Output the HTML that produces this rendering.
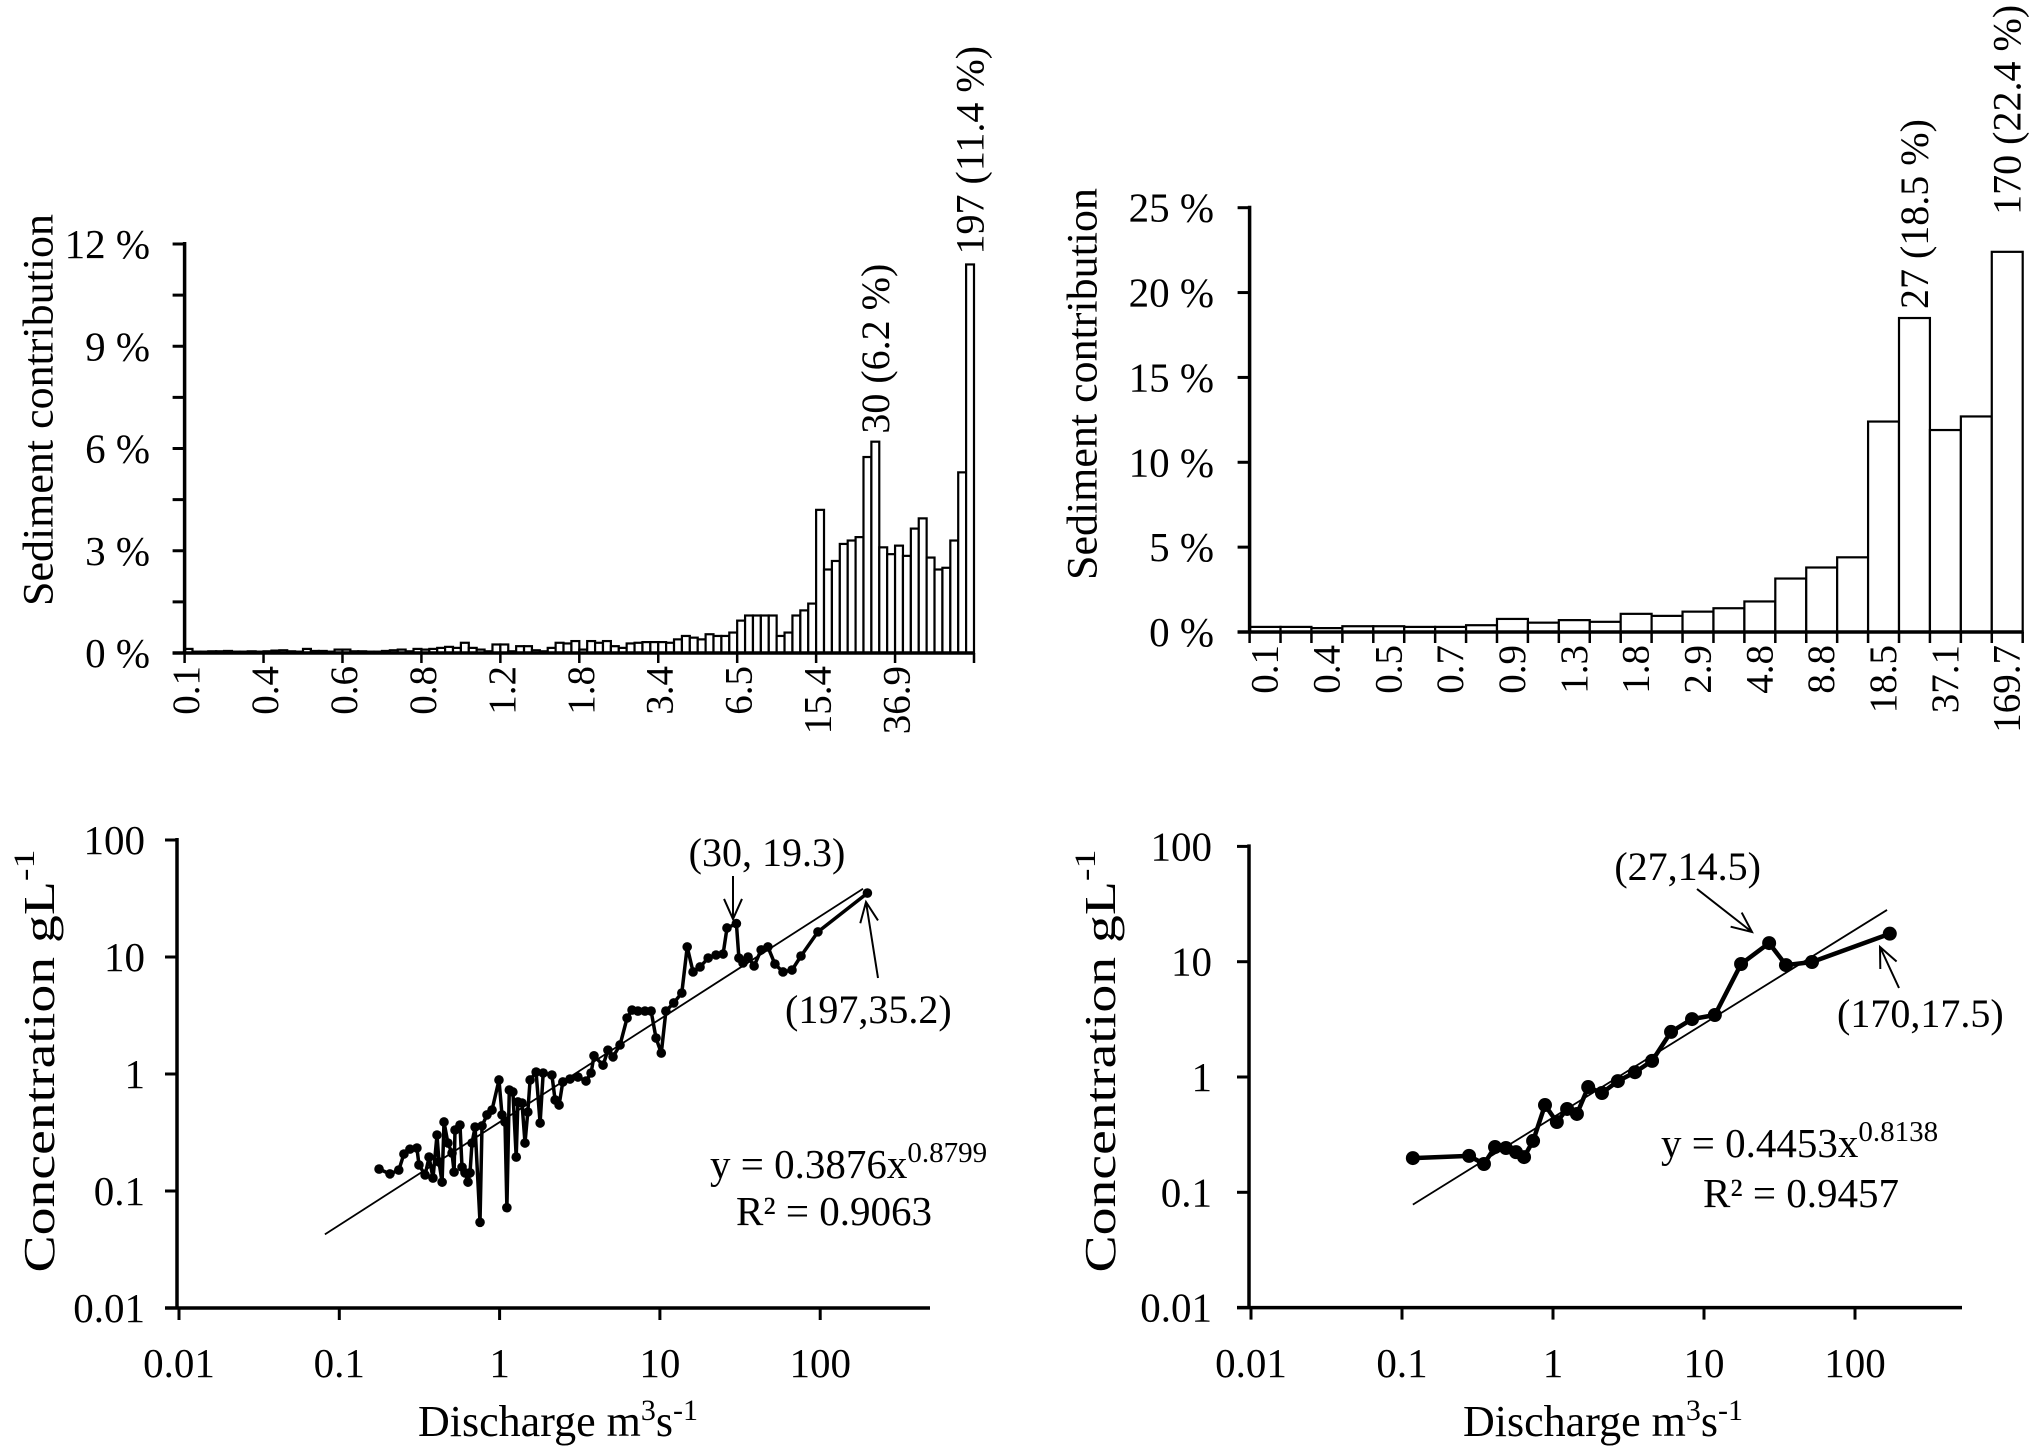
<!DOCTYPE html>
<html><head><meta charset="utf-8"><style>
html,body{margin:0;padding:0;background:#fff}
svg{display:block}
text{font-family:"Liberation Serif","Times New Roman",serif;fill:#000}
</style></head><body>
<svg id="fig" width="2042" height="1455" viewBox="0 0 2042 1455" xmlns="http://www.w3.org/2000/svg">
<rect width="2042" height="1455" fill="#fff"/>
<g id="pa"></g>
<g id="pb"></g>
<g id="pc"></g>
<g id="pd"></g>
</svg>
<script>
const aBarValues=[0.12,0.04,0.04,0.05,0.05,0.06,0.04,0.04,0.05,0.04,
0.05,0.07,0.08,0.05,0.04,0.12,0.06,0.06,0.04,0.1,
0.1,0.05,0.05,0.04,0.04,0.06,0.08,0.1,0.05,0.12,
0.1,0.12,0.15,0.18,0.15,0.3,0.15,0.1,0.05,0.25,
0.25,0.05,0.2,0.2,0.08,0.05,0.15,0.3,0.28,0.35,
0.1,0.35,0.3,0.35,0.2,0.15,0.28,0.3,0.32,0.32,
0.32,0.3,0.4,0.5,0.45,0.4,0.55,0.5,0.5,0.6,
0.95,1.1,1.1,1.1,1.1,0.5,0.6,1.1,1.25,1.45,
4.2,2.45,2.7,3.2,3.3,3.4,5.75,6.2,3.1,2.9,
3.15,2.85,3.65,3.95,2.8,2.45,2.5,3.3,5.3,11.4];
const aTickLabels=['0.1','0.4','0.6','0.8','1.2','1.8','3.4','6.5','15.4','36.9'];
const aYTicks=[0,3,6,9,12];
const aPeakIdx=[87,99];
const aPeakText=['30 (6.2 %)','197 (11.4 %)'];

const bBarValues=[0.3,0.3,0.23,0.34,0.34,0.3,0.3,0.4,0.77,0.55,0.7,0.6,1.07,0.95,1.2,1.4,1.8,3.15,3.8,4.4,12.4,18.5,11.9,12.7,22.4];
const bTickLabels=['0.1','0.4','0.5','0.7','0.9','1.3','1.8','2.9','4.8','8.8','18.5','37.1','169.7'];
const bYTicks=[0,5,10,15,20,25];
const bPeakIdx=[21,24];
const bPeakText=['27 (18.5 %)','170 (22.4 %)'];

const cQ=[0.177,0.207,0.235,0.253,0.276,0.305,0.314,0.343,0.363,0.384,0.407,0.419,0.438,0.45,0.476,0.505,0.52,0.527,0.566,0.583,0.608,0.635,0.654,0.673,0.703,0.755,0.777,0.834,0.897,0.991,1.035,1.08,1.11,1.15,1.21,1.27,1.3,1.38,1.44,1.5,1.55,1.69,1.79,1.87,2.12,2.22,2.35,2.48,2.75,3.08,3.46,3.72,3.88,4.42,4.74,5.1,5.64,6.24,6.7,7.3,8.07,8.81,9.46,10.2,10.9,12.2,13.7,14.8,16.1,17.8,20.0,22.4,24.8,26.2,30,31.1,33.0,35.5,38.7,42.8,47.2,52.2,58.6,66.7,75.9,96.8,197];
const cC=[0.154,0.14,0.151,0.207,0.228,0.233,0.167,0.137,0.195,0.129,0.301,0.177,0.119,0.389,0.257,0.211,0.145,0.332,0.366,0.16,0.143,0.119,0.143,0.257,0.352,0.054,0.36,0.447,0.492,0.889,0.447,0.389,0.072,0.73,0.702,0.195,0.577,0.565,0.257,0.473,0.889,1.04,0.381,1.02,0.98,0.6,0.543,0.855,0.906,0.942,0.871,1.02,1.43,1.19,1.6,1.4,1.77,3.01,3.52,3.45,3.45,3.45,2.03,1.51,3.45,4.05,4.92,12.2,7.45,8.22,9.8,10.4,10.6,17.7,19.3,9.8,8.89,10.0,8.38,11.5,12.2,8.71,7.45,7.74,10.2,16.4,35.2];
const cFit=[0.3876,0.8799];
const cFitRange=[0.0813,185];

const dQ=[0.118,0.278,0.349,0.413,0.488,0.569,0.643,0.738,0.885,1.06,1.24,1.44,1.71,2.11,2.69,3.49,4.53,6.05,8.33,11.8,17.6,27,34.9,51.9,170];
const dC=[0.198,0.207,0.176,0.247,0.242,0.223,0.202,0.279,0.571,0.407,0.528,0.478,0.818,0.726,0.922,1.1,1.38,2.46,3.18,3.45,9.55,14.5,9.35,9.94,17.5];
const dFit=[0.4453,0.8138];
const dFitRange=[0.118,163];

const logTicks=[0.01,0.1,1,10,100];
const logTickLabels=['0.01','0.1','1','10','100'];

const NS='http://www.w3.org/2000/svg';
function el(parent,tag,attrs,txt){const e=document.createElementNS(NS,tag);for(const k in attrs)e.setAttribute(k,attrs[k]);if(txt!==undefined)e.textContent=txt;parent.appendChild(e);return e;}

function histogram(g,cfg){
  const {x0,x1,y0,yTop,yMax,vals,yTicks,yMinorStep,labels,labelEvery,labelCenter,labelRight,peakIdx,peakText,peakGap,titleX,titleY,titleLen,boundaryTicks}=cfg;
  const n=vals.length,bw=(x1-x0)/n;
  const ys=v=>y0-(v/yMax)*(y0-yTop);
  vals.forEach((v,i)=>{
    const r=el(g,'rect',{x:x0+i*bw,y:ys(v),width:bw,height:y0-ys(v),fill:'#fff',stroke:'#000','stroke-width':2.2});
    
    
  });
  const ax=el(g,'line',{x1:x0,y1:yTop-2,x2:x0,y2:y0,stroke:'#000','stroke-width':3.5});
  
  
  const xa=el(g,'line',{x1:x0-12,y1:y0,x2:x1+1,y2:y0,stroke:'#000','stroke-width':3.5});
  
  
  for(let v=0;v<=yMax+1e-9;v+=yMinorStep){
    const t=el(g,'line',{x1:x0-12,y1:ys(v),x2:x0,y2:ys(v),stroke:'#000','stroke-width':3});
    
    
  }
  yTicks.forEach(v=>{
    const t=el(g,'text',{x:labelRight,y:ys(v),'text-anchor':'end','dominant-baseline':'central','font-size':41},v+' %');
    
    
  });
  if(boundaryTicks){for(let i=0;i<=n;i++){
    const t=el(g,'line',{x1:x0+i*bw,y1:y0,x2:x0+i*bw,y2:y0+11,stroke:'#000','stroke-width':2.5});
    
    
  }}else{for(let i=0;i<=n;i+=labelEvery){
    const t=el(g,'line',{x1:x0+i*bw,y1:y0,x2:x0+i*bw,y2:y0+10,stroke:'#000','stroke-width':2.5});
    
    
  }}
  labels.forEach((s,k)=>{
    const i=k*labelEvery;
    const lx=x0+(labelCenter?(i+0.5)*bw:i*bw+2);
    const ly=y0+13;
    const t=el(g,'text',{x:0,y:0,transform:`translate(${lx},${ly}) rotate(-90)`,'text-anchor':'end','dominant-baseline':'central','font-size':39},s);
    
    
  });
  peakIdx.forEach((idx,k)=>{
    const lx=x0+(idx+0.5)*bw,ly=ys(vals[idx])-peakGap[k];
    const t=el(g,'text',{x:0,y:0,transform:`translate(${lx},${ly}) rotate(-90)`,'text-anchor':'start','dominant-baseline':'central','font-size':40},peakText[k]);
    
    
  });
  const tt=el(g,'text',{x:0,y:0,transform:`translate(${titleX},${titleY}) rotate(-90)`,'text-anchor':'middle','dominant-baseline':'central','font-size':43,textLength:titleLen,lengthAdjust:'spacingAndGlyphs'},'Sediment contribution');
  
  
}

histogram(document.getElementById('pa'),{x0:184.6,x1:974,y0:653,yTop:244,yMax:12,vals:aBarValues,yTicks:aYTicks,yMinorStep:1.5,labels:aTickLabels,labelEvery:10,labelCenter:false,labelRight:150,peakIdx:aPeakIdx,peakText:aPeakText,peakGap:[8,10],titleX:39,titleY:410,titleLen:392,boundaryTicks:false});
histogram(document.getElementById('pb'),{x0:1249.6,x1:2022.7,y0:632,yTop:207.7,yMax:25,vals:bBarValues,yTicks:bYTicks,yMinorStep:5,labels:bTickLabels,labelEvery:2,labelCenter:true,labelRight:1214,peakIdx:bPeakIdx,peakText:bPeakText,peakGap:[9,37],titleX:1083,titleY:384,titleLen:392,boundaryTicks:true});

function loglog(g,cfg){
  const {ax0,axEnd,xl0,xDec,yl0,yDec,Q,C,fit,fitRange,lw,r,labelRight,titleX,titleCx,eq,ann}=cfg;
  const xs=v=>xl0+xDec*(Math.log10(v)+2);
  const ys=v=>yl0-yDec*(Math.log10(v)+2);
  const ya=el(g,'line',{x1:ax0,y1:ys(100)-2,x2:ax0,y2:yl0,stroke:'#000','stroke-width':3.5});
  
  
  const xa=el(g,'line',{x1:ax0-12,y1:yl0,x2:axEnd,y2:yl0,stroke:'#000','stroke-width':3.5});
  
  
  logTicks.forEach((v,i)=>{
    const t=el(g,'line',{x1:ax0-12,y1:ys(v),x2:ax0,y2:ys(v),stroke:'#000','stroke-width':3});
    
    
    const l=el(g,'text',{x:labelRight,y:ys(v),'text-anchor':'end','dominant-baseline':'central','font-size':41},logTickLabels[i]);
    
    
    const tx=el(g,'line',{x1:xs(v),y1:yl0,x2:xs(v),y2:yl0+12,stroke:'#000','stroke-width':3});
    
    
    const lx=el(g,'text',{x:xs(v),y:1377,'text-anchor':'middle','font-size':41},logTickLabels[i]);
    
    
  });
  const fy=q=>fit[0]*Math.pow(q,fit[1]);
  const fl=el(g,'line',{x1:xs(fitRange[0]),y1:ys(fy(fitRange[0])),x2:xs(fitRange[1]),y2:ys(fy(fitRange[1])),stroke:'#000','stroke-width':1.8});
  
  
  const pts=Q.map((q,i)=>xs(q).toFixed(1)+','+ys(C[i]).toFixed(1)).join(' ');
  const pl=el(g,'polyline',{points:pts,fill:'none',stroke:'#000','stroke-width':lw,'stroke-linejoin':'round'});
  
  
  Q.forEach((q,i)=>{
    const c=el(g,'circle',{cx:xs(q),cy:ys(C[i]),r:r,fill:'#000'});
    
    
  });
  const yt=el(g,'text',{x:0,y:0,transform:`translate(${titleX},1061) rotate(-90)`,'text-anchor':'middle','dominant-baseline':'central','font-size':44,textLength:423,lengthAdjust:'spacingAndGlyphs'});
  
  
  el(yt,'tspan',{},'Concentration gL');
  el(yt,'tspan',{dy:-15,'font-size':30},'-1');
  const xt=el(g,'text',{x:titleCx,y:1436,'text-anchor':'middle','font-size':44});
  
  
  el(xt,'tspan',{},'Discharge m');
  el(xt,'tspan',{dy:-16,'font-size':30},'3');
  el(xt,'tspan',{dy:16},'s');
  el(xt,'tspan',{dy:-16,'font-size':30},'-1');
  const e1=el(g,'text',{x:eq[0],y:eq[1],'font-size':41});
  
  
  el(e1,'tspan',{},'y = '+fit[0]+'x');
  el(e1,'tspan',{dy:-16,'font-size':29},String(fit[1]));
  const e2=el(g,'text',{x:eq[2],y:eq[3],'font-size':41},eq[4]);
  
  
  ann.forEach(a=>{
    const t=el(g,'text',{x:a.tx,y:a.ty,'text-anchor':a.anchor,'font-size':40},a.text);
    
    
    const [x1,y1,x2,y2]=a.arrow;
    const ang=Math.atan2(y2-y1,x2-x1),h=22,sp=0.42;
    const d=`M${x1},${y1}L${x2},${y2}M${x2-h*Math.cos(ang-sp)},${y2-h*Math.sin(ang-sp)}L${x2},${y2}L${x2-h*Math.cos(ang+sp)},${y2-h*Math.sin(ang+sp)}`;
    const p=el(g,'path',{d:d,fill:'none',stroke:'#000','stroke-width':2});
    
    
  });
}

loglog(document.getElementById('pc'),{ax0:177,axEnd:930,xl0:179,xDec:160.3,yl0:1308,yDec:117,Q:cQ,C:cC,fit:cFit,fitRange:cFitRange,lw:3.5,r:4.8,labelRight:145,titleX:39,titleCx:558,
  eq:[710,1178,736,1225,'R² = 0.9063'],
  ann:[{text:'(30, 19.3)',tx:767,ty:866,anchor:'middle',arrow:[733,876,733,919]},
       {text:'(197,35.2)',tx:785,ty:1023,anchor:'start',arrow:[878,978,866,902]}]});
loglog(document.getElementById('pd'),{ax0:1249,axEnd:1962,xl0:1251,xDec:151,yl0:1307.6,yDec:115.3,Q:dQ,C:dC,fit:dFit,fitRange:dFitRange,lw:4.5,r:7,labelRight:1212,titleX:1100,titleCx:1603,
  eq:[1661,1157,1703,1207,'R² = 0.9457'],
  ann:[{text:'(27,14.5)',tx:1761,ty:880,anchor:'end',arrow:[1697,889,1752,932]},
       {text:'(170,17.5)',tx:1837,ty:1027,anchor:'start',arrow:[1899,988,1880,947]}]});
</script>
</body></html>
